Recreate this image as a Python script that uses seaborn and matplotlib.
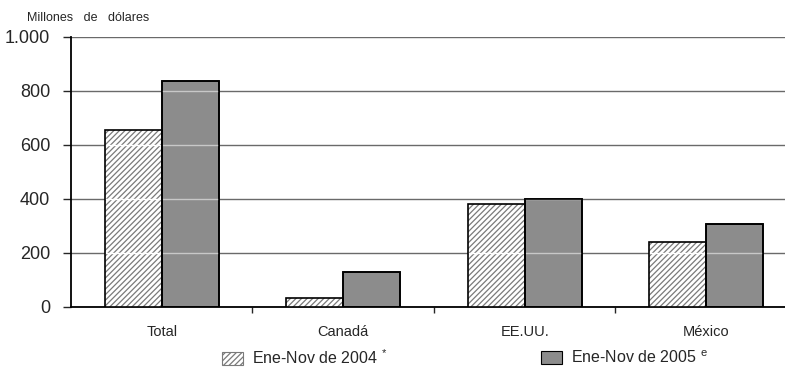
import matplotlib
matplotlib.use("Agg")
import matplotlib.pyplot as plt
import matplotlib.patches as mpatches
import seaborn as sns
import pandas as pd

# data
regiones = ['Total', 'Canadá', 'EE.UU.', 'México']
ene_nov_2004 = [655, 32, 380, 241]
ene_nov_2005 = [838, 128, 399, 307]
series = ['Ene-Nov de 2004', 'Ene-Nov de 2005']
y_ticks = [0, 200, 400, 600, 800, 1000]
y_labels = ['0', '200', '400', '600', '800', '1.000']

df = pd.DataFrame({
    'region': regiones * 2,
    'valor': ene_nov_2004 + ene_nov_2005,
    'serie': [series[0]] * 4 + [series[1]] * 4,
})

sns.set_style('white')
plt.rcParams['font.family'] = ['Liberation Sans', 'DejaVu Sans']
plt.rcParams['mathtext.fontset'] = 'custom'
plt.rcParams['mathtext.rm'] = 'Liberation Sans'
plt.rcParams['mathtext.it'] = 'Liberation Sans'
plt.rcParams['hatch.linewidth'] = 0.9

fig = plt.figure(figsize=(7.85, 3.73), dpi=100)
ax = fig.add_axes([0.0904, 0.177, 0.9096, 0.7239])

sns.barplot(data=df, x='region', y='valor', hue='serie', order=regiones,
            hue_order=series, palette=['white', '#8c8c8c'], width=0.628,
            saturation=1, edgecolor='black', linewidth=1.2, legend=False,
            ax=ax, zorder=3)

# hatch the 2004 bars with gray lines
for bar in ax.containers[0]:
    bar.set_hatch('//////')
    bar.set_edgecolor('#7a7a7a')
    bar.set_linewidth(0)

# light gridlines showing through the bars, then black outlines on top
for cont, col in [(ax.containers[0], 'white'), (ax.containers[1], '#c8c8c8')]:
    for bar in cont:
        for yv in y_ticks[1:-1]:
            ln = ax.axhline(yv, color=col, linewidth=1, zorder=3.5)
            ln.set_clip_path(bar)
        ax.add_patch(mpatches.Rectangle(bar.get_xy(), bar.get_width(), bar.get_height(),
                                        fill=False, edgecolor='black', linewidth=1.2, zorder=4))

ax.set_ylim(0, 1000)
ax.set_xlim(-0.5, 3.434)
ax.set_yticks(y_ticks)
ax.set_yticklabels(y_labels, fontsize=13)
ax.yaxis.grid(True, color='#6a6a6a', linewidth=1)
ax.set_axisbelow(True)
ax.set_xlabel('')
ax.set_ylabel('')
ax.set_xticks([0.5, 1.5, 2.5], minor=True)
ax.tick_params(axis='x', which='major', length=0, pad=13, labelsize=10.5)
ax.tick_params(axis='x', which='minor', length=4, width=1, direction='out', bottom=True)
ax.tick_params(axis='y', length=6, width=1, direction='out', left=True, pad=9)
for s in ['top', 'right']:
    ax.spines[s].set_visible(False)
for s in ['left', 'bottom']:
    ax.spines[s].set_color('black')
    ax.spines[s].set_linewidth(1.3)

fig.text(27 / 785, 1 - 18 / 373, 'Millones   de   dólares', fontsize=9, va='center', ha='left')

h1 = mpatches.Patch(facecolor='white', edgecolor='#7a7a7a', hatch='//////', linewidth=0.8)
h2 = mpatches.Patch(facecolor='#8c8c8c', edgecolor='black', linewidth=0.8)
leg_kw = dict(frameon=False, fontsize=11.5, handlelength=1.3, handleheight=0.9,
              handletextpad=0.6, borderpad=0, borderaxespad=0, loc='center left')
fig.legend([h1], ['Ene-Nov de 2004 $^{*}$'], bbox_to_anchor=(222 / 785, 1 - 358 / 373), **leg_kw)
fig.legend([h2], ['Ene-Nov de 2005 $^{e}$'], bbox_to_anchor=(541 / 785, 1 - 358 / 373), **leg_kw)

fig.savefig('out.png', dpi=100)
